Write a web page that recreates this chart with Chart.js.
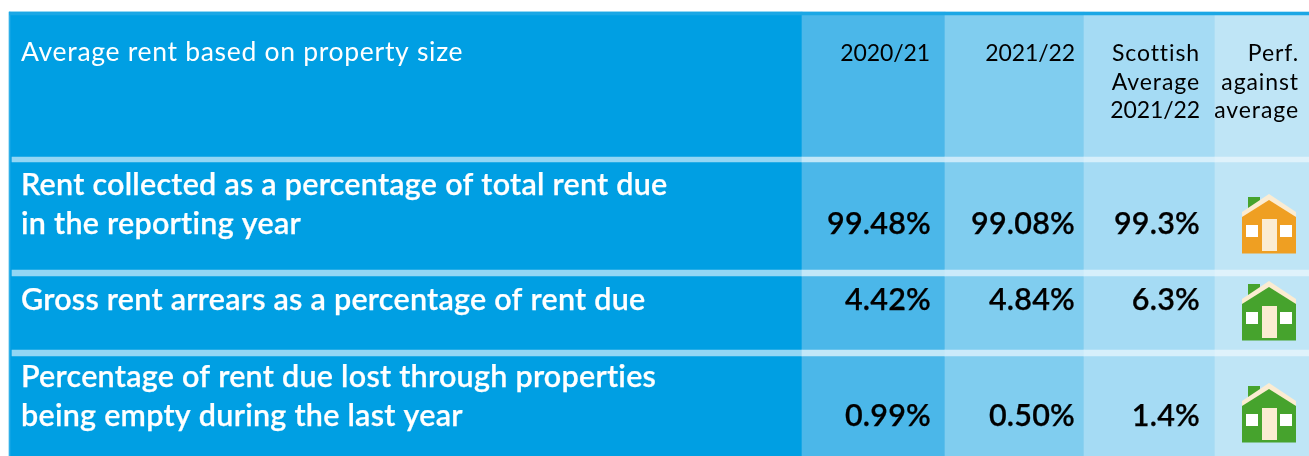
<!DOCTYPE html>
<html><head><meta charset="utf-8">
<style>html,body{margin:0;padding:0;background:#fff;overflow:hidden}canvas{display:block}</style>
<script src="https://cdn.jsdelivr.net/npm/chart.js@4"></script>
</head><body><canvas id="c" width="1309" height="456"></canvas>
<script>
// ---- data ----
const headerTitle = 'Average rent based on property size';
const columnHeaders = [['2020/21'], ['2021/22'], ['Scottish', 'Average', '2021/22'], ['Perf.', 'against', 'average']];
const rowLabels = [
  ['Rent collected as a percentage of total rent due', 'in the reporting year'],
  ['Gross rent arrears as a percentage of rent due'],
  ['Percentage of rent due lost through properties', 'being empty during the last year']
];
const values2020 = ['99.48%', '4.42%', '0.99%'];
const values2021 = ['99.08%', '4.84%', '0.50%'];
const valuesScot = ['99.3%', '6.3%', '1.4%'];
const performance = ['amber', 'green', 'green'];

// ---- layout on the chart's scales ----
const colEdges = [9.5, 802, 945, 1084, 1215, 1309];
const colColors = ['#009fe3', '#4bb7e9', '#80cdef', '#a5dbf4', '#bfe5f6'];
const sepColors = ['#93d6f4', '#c2e7f8', '#cbeafa', '#d6effb', '#dff2fb'];
const sepYs = [[157, 162], [270, 276], [350, 356]];
const valueRight = [931, 1075, 1200];
const headRight = [930, 1075, 1200, 1299];
const headBase = [61, 90, 118];
const rowBase = [[195, 234], [310], [387, 426]];
const valueBase = [234, 310, 426];
const houseX = 1269, houseY = [224, 311, 413];
const houseColors = {amber: '#ef9f22', green: '#46a32d'};

function houseIcon(fill) {
  const cv = document.createElement('canvas');
  cv.width = 54; cv.height = 60;
  const g = cv.getContext('2d');
  const cream = '#fbecd2';
  g.fillStyle = '#46a32d'; g.fillRect(6, 3, 12, 14);
  g.fillStyle = cream;
  g.beginPath(); g.moveTo(27, 0); g.lineTo(54, 18); g.lineTo(54, 24); g.lineTo(0, 24); g.lineTo(0, 18); g.closePath(); g.fill();
  g.fillStyle = fill;
  g.beginPath(); g.moveTo(27, 6); g.lineTo(54, 23); g.lineTo(54, 59.5); g.lineTo(0, 59.5); g.lineTo(0, 23); g.closePath(); g.fill();
  g.fillStyle = '#fff'; g.fillRect(4, 31, 12, 12); g.fillRect(38, 31, 12, 12);
  g.fillStyle = cream; g.fillRect(20, 25, 15, 32);
  return cv;
}

const rowFont = '600 30.5px Lato', headFont = '400 26.5px Lato', colHeadFont = '400 23px Lato', valFont = '600 30.5px Lato';

const tablePlugin = {
  id: 'tableText',
  afterDatasetsDraw(chart) {
    const {ctx, scales: {x, y}} = chart;
    const put = (t, xv, yv, font, color, align, sp, stroke) => {
      ctx.font = font; ctx.fillStyle = color; ctx.textAlign = align; ctx.textBaseline = 'alphabetic';
      ctx.letterSpacing = sp + 'px';
      const px = x.getPixelForValue(xv), py = y.getPixelForValue(yv);
      ctx.fillText(t, px, py);
      if (stroke) { ctx.strokeStyle = color; ctx.lineWidth = stroke; ctx.strokeText(t, px, py); }
    };
    ctx.save();
    put(headerTitle, 21, headBase[0], headFont, '#fff', 'left', 0.7);
    columnHeaders.forEach((lines, c) => lines.forEach((t, i) =>
      put(t, headRight[c], headBase[i], colHeadFont, '#000', 'right', /\d/.test(t) ? -0.1 : 0.9)));
    rowLabels.forEach((lines, r) => lines.forEach((t, i) => put(t, 21, rowBase[r][i], rowFont, '#fff', 'left', 0.25, 0.25)));
    [values2020, values2021, valuesScot].forEach((col, c) => col.forEach((t, r) => put(t, valueRight[c], valueBase[r], valFont, '#000', 'right', 0.2, 0.25)));
    ctx.restore();
  }
};

const cells = (yc) => colColors.map((_, i) => ({x: [colEdges[i], colEdges[i + 1]], y: yc}));
const bar = (data, colors, thick, order) => ({
  type: 'bar', data, backgroundColor: colors, barThickness: thick, borderWidth: 0, grouped: false, order
});

const datasets = [
  {type: 'scatter', label: 'Perf. against average', order: 0,
   data: performance.map((p, i) => ({x: houseX, y: houseY[i]})),
   pointStyle: performance.map(p => houseIcon(houseColors[p])), pointRadius: 27, showLine: false},
  bar([{x: [colEdges[0], colEdges[5]], y: 13.5}], '#1ba7e5', 3, 1),
  bar([{x: [9, 10], y: 234}], '#2dafe8', 444, 1),
  ...sepYs.map(([a, b]) => {
    const d = cells((a + b) / 2); d[0].x = [12, colEdges[1]];
    return bar(d, sepColors, b - a, 2);
  }),
  bar(cells(234), colColors, 444, 3)
];

new Chart(document.getElementById('c'), {
  type: 'bar',
  data: {datasets},
  options: {
    indexAxis: 'y', responsive: false, animation: false, devicePixelRatio: 1,
    layout: {padding: 0, autoPadding: false},
    plugins: {legend: {display: false}, tooltip: {enabled: false}},
    scales: {
      x: {type: 'linear', min: 0, max: 1309, display: false, offset: false},
      y: {type: 'linear', min: 0, max: 456, reverse: true, display: false, offset: false}
    }
  },
  plugins: [tablePlugin]
});
</script></body></html>
